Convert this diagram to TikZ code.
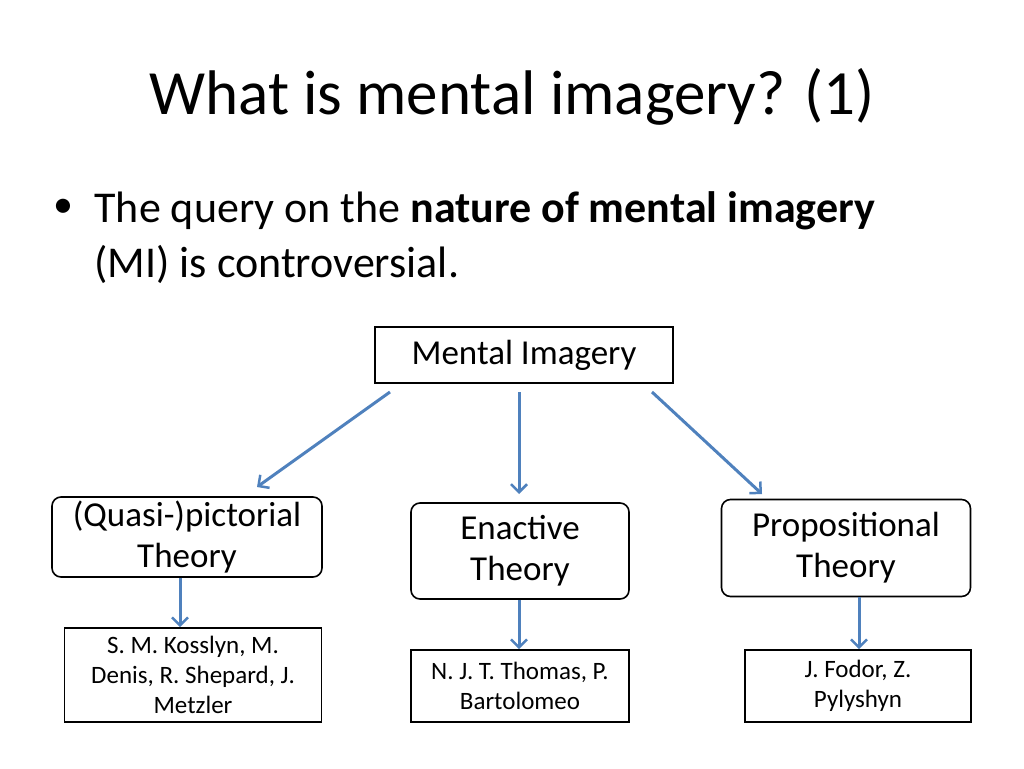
\documentclass[tikz,border=0pt]{standalone}
\usepackage{fontspec}
\setmainfont{Carlito}
\usetikzlibrary{arrows.meta}
\begin{document}
\begin{tikzpicture}[x=1pt,y=-1pt,
 box/.style={draw,line width=1.6pt,align=center,inner sep=0pt},
 rbox/.style={box,rounded corners=9pt},
 big/.style={font=\fontsize{35}{41}\selectfont},
 small/.style={font=\fontsize{25}{30}\selectfont},
 arr/.style={draw={rgb,255:red,79;green,129;blue,189},line width=3pt,-{Straight Barb[length=8pt,width=16pt,line width=2.5pt]}}]
\useasboundingbox (0,0) rectangle (1024,768);
\node (title) at (512,97) {\fontsize{63}{66}\selectfont What is mental imagery? (1)};
\node[anchor=west] (bul) at (50,208) {\fontsize{40}{40}\selectfont •};
\node[anchor=base west] (l1) at (91,222) {\fontsize{44}{46}\selectfont The query on the \textbf{nature of mental imagery}};
\node[anchor=base west] (l2) at (91,277) {\fontsize{44}{46}\selectfont (MI) is controversial.};
\node[box,big,minimum width=298pt,minimum height=56pt] (mi) at (524,355) {Mental Imagery};
\node[rbox,big,minimum width=270pt,minimum height=80pt] (q) at (187,537) {(Quasi-)pictorial\\Theory};
\node[rbox,big,minimum width=218pt,minimum height=96pt] (e) at (520,551) {Enactive\\Theory};
\node[rbox,big,minimum width=249pt,minimum height=97pt] (p) at (846,548) {Propositional\\Theory};
\node[box,small,minimum width=257pt,minimum height=94pt] (k) at (193,675) {S. M. Kosslyn, M.\\Denis, R. Shepard, J.\\Metzler};
\node[box,small,minimum width=218pt,minimum height=72pt] (t) at (520,686) {N. J. T. Thomas, P.\\Bartolomeo};
\node[box,small,minimum width=226pt,minimum height=72pt] (f) at (858,686) {J. Fodor, Z.\\Pylyshyn};
\coordinate (a1) at (390,392); \coordinate (b1) at (257,487);
\coordinate (a2) at (519,392); \coordinate (b2) at (519,494);
\coordinate (a3) at (652,392); \coordinate (b3) at (762,494);
\draw[arr] (a1) -- (b1);
\draw[arr] (a2) -- (b2);
\draw[arr] (a3) -- (b3);
\draw[arr] (q.south -| 180,0) -- (k.north -| 180,0);
\draw[arr] (e.south -| 519,0) -- (t.north -| 519,0);
\draw[arr] (p.south -| 859,0) -- (f.north -| 859,0);
\end{tikzpicture}
\end{document}
